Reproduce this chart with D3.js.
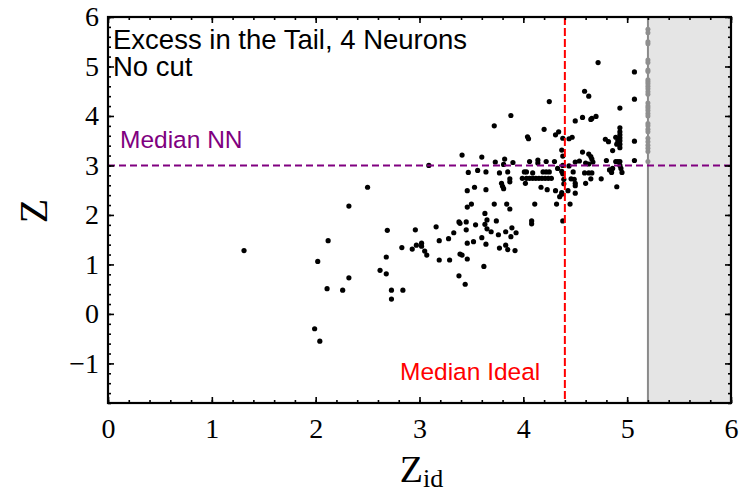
<!DOCTYPE html>
<html>
<head>
<meta charset="utf-8">
<script src="https://cdn.jsdelivr.net/npm/d3@7"></script>
<style>
  html, body { margin: 0; padding: 0; background: #fff; }
  svg { display: block; }
</style>
</head>
<body>
<svg id="chart" width="740" height="493"></svg>
<script>
// ---------------- data ----------------
const zIdValues = [
  2.50,2.32,2.69,2.12,1.31,2.02,2.68,2.62,2.68,2.32,2.11,2.26,2.73,2.73,1.99,2.04,
  3.41,3.09,3.47,3.46,3.46,3.38,3.39,3.45,2.96,3.16,3.33,3.28,3.19,3.02,3.02,2.97,2.83,2.93,3.05,3.07,3.46,3.39,3.41,3.46,3.19,3.29,3.38,3.44,2.84,
  3.88,3.72,4.04,4.05,4.20,3.60,3.73,3.82,3.90,4.06,4.14,4.14,3.81,3.56,3.64,3.77,3.85,4.01,4.03,4.09,3.87,3.87,3.79,3.80,3.81,
  3.99,4.03,4.06,4.09,4.12,4.15,4.18,4.21,4.24,4.27,
  4.02,3.53,3.64,4.17,3.72,3.84,3.50,4.11,
  3.87,3.63,3.65,3.63,3.54,3.74,4.08,4.08,3.45,3.65,3.69,3.76,3.83,3.89,3.93,3.88,3.60,3.52,3.64,3.77,3.83,3.85,3.92,3.62,
  4.72,5.07,4.59,4.63,4.25,5.07,4.93,4.50,4.57,4.65,4.66,4.70,4.31,4.34,4.38,4.44,4.47,4.79,4.82,4.93,4.93,4.93,4.89,4.93,4.91,4.93,4.90,4.93,4.93,5.07,
  4.37,4.38,4.57,4.63,4.65,4.66,4.86,4.54,4.60,4.80,4.89,4.91,4.93,5.07,4.22,4.30,4.38,4.44,4.33,4.50,4.63,4.67,4.48,4.59,4.63,4.66,4.83,4.86,4.85,4.93,4.94,4.95,4.22,4.19,4.38,4.25,4.37,
  4.39,4.46,4.49,4.65,4.75,4.60,4.50,4.39,4.50,4.90,4.23,4.31,4.37,4.43,4.50,4.35,4.37,4.32,4.45,4.38
];
const zNNValues = [
  2.56,2.18,1.69,1.48,1.28,1.06,1.15,0.88,0.81,0.73,0.51,0.48,0.48,0.30,-0.30,-0.55,
  3.21,3.00,2.86,2.49,2.16,1.86,1.83,1.86,1.70,1.76,1.64,1.52,1.48,1.43,1.37,1.39,1.34,1.31,1.27,1.19,1.43,1.21,1.19,1.11,1.09,1.09,0.77,0.60,0.48,
  4.01,3.80,3.58,3.54,3.73,3.17,3.07,3.13,3.06,3.08,3.11,3.05,3.02,2.90,2.87,2.85,2.87,2.87,2.87,2.85,2.73,2.67,2.64,2.58,2.53,
  2.74,2.74,2.74,2.74,2.74,2.74,2.74,2.74,2.74,2.74,
  2.64,2.56,2.51,2.56,2.22,2.22,2.22,2.22,
  2.12,2.03,1.90,1.81,1.80,1.88,1.88,1.82,1.70,1.72,1.66,1.60,1.66,1.74,1.64,1.56,1.54,1.46,1.41,1.33,1.39,1.30,1.28,0.96,
  5.08,4.89,4.50,4.40,4.29,4.34,4.16,3.90,3.97,3.93,3.95,3.99,3.62,3.68,3.55,3.54,3.57,3.53,3.48,3.76,3.68,3.62,3.57,3.56,3.50,3.50,3.43,3.43,3.36,3.49,
  3.31,3.19,3.27,3.23,3.18,3.13,3.30,3.09,3.05,3.10,3.08,3.08,3.08,3.10,3.08,3.08,3.00,2.99,2.94,3.07,3.03,3.07,2.87,2.85,2.85,2.85,2.91,2.94,2.86,3.00,2.94,2.86,2.87,2.87,2.83,2.87,2.88,
  2.72,2.73,2.72,2.73,2.73,2.64,2.64,2.63,2.59,2.57,2.51,2.49,2.45,2.49,2.44,2.37,2.42,2.22,2.22,1.88
];
// points beyond the cut, drawn on the cut line
const cutZid = 5.2;
const cutZNNValues = [5.75,5.68,5.50,5.46,5.13,5.08,4.93,4.90,4.73,4.69,4.65,4.60,4.55,4.49,4.44,
  4.26,4.20,4.16,4.11,4.05,4.00,3.85,3.80,3.73,3.68,3.55,3.48,3.41,3.35,3.28,3.08];
const medianIdeal = 4.4;
const medianNN = 3.0;
const xTickLabels = [0,1,2,3,4,5,6];
const yTickLabels = [-1,0,1,2,3,4,5,6];
const titleLines = ["Excess in the Tail, 4 Neurons", "No cut"];

// ---------------- chart ----------------
const svg = d3.select("#chart");
const L = 108, R = 731, T = 17, B = 403;
const x = d3.scaleLinear().domain([0, 6]).range([L, R]);
const y = d3.scaleLinear().domain([-1.8, 6]).range([B, T]);

const serif = "'Liberation Serif', 'Times New Roman', Times, serif";
const sans = "'Liberation Sans', Arial, Helvetica, sans-serif";

// shaded region beyond cut
svg.append("rect")
  .attr("x", x(cutZid)).attr("y", T)
  .attr("width", x(6) - x(cutZid)).attr("height", B - T)
  .attr("fill", "#e5e5e5");

svg.append("line")
  .attr("x1", x(cutZid)).attr("x2", x(cutZid))
  .attr("y1", T).attr("y2", B)
  .attr("stroke", "#8a8a8a").attr("stroke-width", 2);

// grey points on the cut line
svg.append("g").selectAll("circle").data(cutZNNValues).join("circle")
  .attr("cx", x(cutZid)).attr("cy", d => y(d)).attr("r", 2.5)
  .attr("fill", "#8f8f8f");

// black points
const pts = zIdValues.map((v, i) => [v, zNNValues[i]]);
svg.append("g").selectAll("circle").data(pts).join("circle")
  .attr("cx", d => x(d[0])).attr("cy", d => y(d[1])).attr("r", 2.6)
  .attr("fill", "#000");

// median lines
svg.append("line")
  .attr("x1", x(medianIdeal)).attr("x2", x(medianIdeal))
  .attr("y1", T).attr("y2", B)
  .attr("stroke", "#ff0000").attr("stroke-width", 2)
  .attr("stroke-dasharray", "8,3");
svg.append("line")
  .attr("x1", L).attr("x2", R)
  .attr("y1", y(medianNN)).attr("y2", y(medianNN))
  .attr("stroke", "#800080").attr("stroke-width", 2)
  .attr("stroke-dasharray", "7,4");

// axes
const xMinor = d3.range(0, 6.0001, 0.2).map(v => +v.toFixed(1));
const yMinor = d3.range(-1.8, 6.0001, 0.2).map(v => +v.toFixed(1));

function styleAxis(g) {
  g.select(".domain").remove();
  g.selectAll("line").attr("stroke", "#000").attr("stroke-width", 1.6);
}

svg.append("g").attr("transform", `translate(0,${B})`)
  .call(d3.axisBottom(x).tickValues(xMinor).tickSize(-3).tickFormat(""))
  .call(styleAxis);
svg.append("g").attr("transform", `translate(0,${B})`)
  .call(d3.axisBottom(x).tickValues(xTickLabels).tickSize(-6).tickPadding(15).tickFormat(d3.format("d")))
  .call(styleAxis)
  .call(g => g.selectAll("text").attr("font-family", serif).attr("font-size", 28).attr("fill", "#000"));

svg.append("g").attr("transform", `translate(0,${T})`)
  .call(d3.axisTop(x).tickValues(xMinor).tickSize(-3).tickFormat(""))
  .call(styleAxis);
svg.append("g").attr("transform", `translate(0,${T})`)
  .call(d3.axisTop(x).tickValues(xTickLabels).tickSize(-6).tickFormat(""))
  .call(styleAxis);

svg.append("g").attr("transform", `translate(${L},0)`)
  .call(d3.axisLeft(y).tickValues(yMinor).tickSize(-3).tickFormat(""))
  .call(styleAxis);
svg.append("g").attr("transform", `translate(${L},0)`)
  .call(d3.axisLeft(y).tickValues(yTickLabels).tickSize(-6).tickPadding(9).tickFormat(d3.format("d")))
  .call(styleAxis)
  .call(g => g.selectAll("text").attr("font-family", serif).attr("font-size", 28).attr("fill", "#000"));

svg.append("g").attr("transform", `translate(${R},0)`)
  .call(d3.axisRight(y).tickValues(yMinor).tickSize(-3).tickFormat(""))
  .call(styleAxis);
svg.append("g").attr("transform", `translate(${R},0)`)
  .call(d3.axisRight(y).tickValues(yTickLabels).tickSize(-6).tickFormat(""))
  .call(styleAxis);

// frame
svg.append("rect")
  .attr("x", L).attr("y", T).attr("width", R - L).attr("height", B - T)
  .attr("fill", "none").attr("stroke", "#000").attr("stroke-width", 2.2);

// annotations: two-line title block as one text element
const title = svg.append("text")
  .attr("font-family", sans).attr("font-size", 27.5).attr("fill", "#000");
title.selectAll("tspan").data(titleLines).join("tspan")
  .attr("x", L + 5)
  .attr("y", (d, i) => 49 + i * 27)
  .text(d => d);

svg.append("text").attr("x", L + 12).attr("y", 148)
  .attr("font-family", sans).attr("font-size", 24.5).attr("fill", "#800080")
  .text("Median NN");
svg.append("text").attr("x", 400).attr("y", 380)
  .attr("font-family", sans).attr("font-size", 24.5).attr("fill", "#ff0000")
  .text("Median Ideal");

// axis titles
svg.append("text")
  .attr("transform", "translate(33,211) rotate(-90)")
  .attr("text-anchor", "middle").attr("dominant-baseline", "central")
  .attr("font-family", serif).attr("font-size", 40).attr("fill", "#000")
  .text("Z");
const xl = svg.append("text")
  .attr("x", (L + R) / 2 + 2).attr("y", 482)
  .attr("text-anchor", "middle")
  .attr("font-family", serif).attr("fill", "#000");
xl.append("tspan").attr("font-size", 38).text("Z");
xl.append("tspan").attr("font-size", 26).attr("dy", 5).text("id");
</script>
</body>
</html>
